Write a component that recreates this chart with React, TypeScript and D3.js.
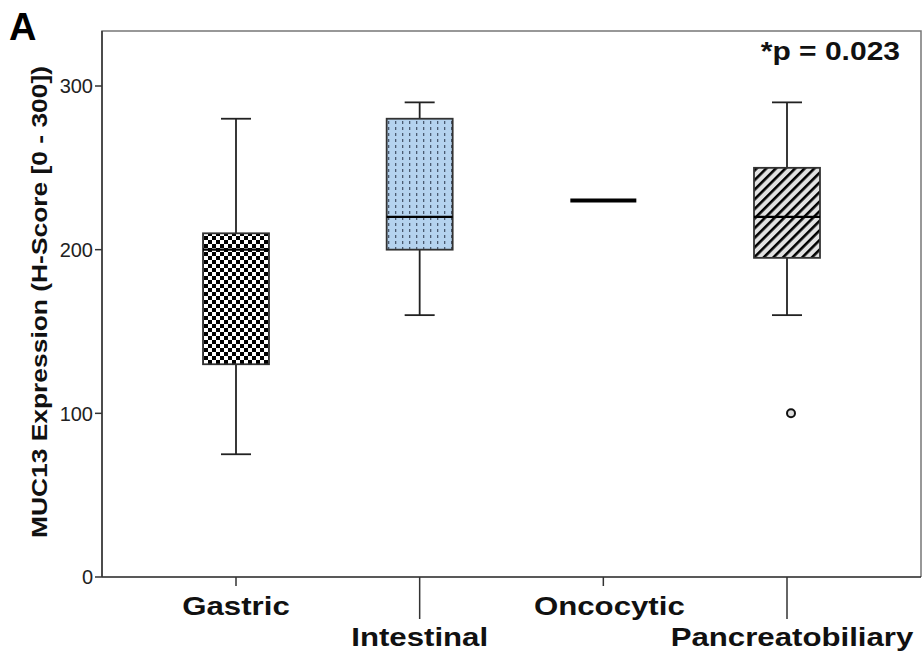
import React from "react";
import * as d3 from "d3";

const categories = ["Gastric", "Intestinal", "Oncocytic", "Pancreatobiliary"];
const mins = [75, 160, 230, 160];
const q1s = [130, 200, 230, 195];
const medians = [200, 220, 230, 220];
const q3s = [210, 280, 230, 250];
const maxs = [280, 290, 230, 290];
const outliers = [{ cat: "Pancreatobiliary", value: 100 }];
const yTicks = [0, 100, 200, 300];
const fills = ["url(#checker)", "url(#dots)", "#000", "url(#hatch)"];

const W = 924;
const H = 656;
const left = 102;
const right = 921;
const top = 31;
const bottom = 577;
const SX = 1.2;

function StretchText({ x, y, size, anchor = "middle", children }: any) {
  return (
    <g transform={`translate(${x},${y}) scale(${SX},1)`}>
      <text x={0} y={0} textAnchor={anchor} fontSize={size} fontWeight="bold" fill="#111">{children}</text>
    </g>
  );
}

export default function App() {
  const y = d3.scaleLinear().domain([0, 300]).range([bottom, 86]);
  const x = d3.scalePoint<string>().domain(categories).range([236, 787]);
  const boxW = 66;
  const capW = 30;
  const labelShift: Record<string, number> = { Oncocytic: 6, Pancreatobiliary: 5 };
  return (
    <svg width={W} height={H} style={{ position: "absolute", left: 0, top: 0, background: "#fff" }}
      fontFamily="Arial, 'Liberation Sans', sans-serif">
      <defs>
        <pattern id="checker" width={8} height={8} patternUnits="userSpaceOnUse">
          <rect width={8} height={8} fill="#fff" />
          <rect width={4} height={4} fill="#000" />
          <rect x={4} y={4} width={4} height={4} fill="#000" />
        </pattern>
        <pattern id="dots" width={7} height={6} patternUnits="userSpaceOnUse">
          <rect width={7} height={6} fill="#b5d3ef" />
          <rect x={3} y={1} width={1.3} height={3} fill="#4a5a70" />
        </pattern>
        <pattern id="hatch" width={6.8} height={6.8} patternUnits="userSpaceOnUse" patternTransform="rotate(45)">
          <rect width={6.8} height={6.8} fill="#e2e2e2" />
          <rect x={0} y={0} width={2.6} height={6.8} fill="#000" />
        </pattern>
      </defs>
      {/* frame */}
      <path d={`M${left},${bottom}V${top}H${right}V${bottom}`} fill="none" stroke="#777" strokeWidth={1.5} />
      <line x1={left} x2={right} y1={bottom} y2={bottom} stroke="#222" strokeWidth={1.5} />
      <line x1={left} x2={left} y1={top} y2={bottom} stroke="#333" strokeWidth={1.5} />
      {/* y ticks */}
      {yTicks.map((t) => (
        <g key={t}>
          <line x1={left - 7} x2={left} y1={y(t)} y2={y(t)} stroke="#333" strokeWidth={1.5} />
          <text x={left - 9} y={y(t)} dy="0.36em" textAnchor="end" fontSize={20} fill="#222">{t}</text>
        </g>
      ))}
      <g transform={`translate(47,${302}) rotate(-90)`}>
        <StretchText x={0} y={0} size={22}>MUC13 Expression (H-Score [0 - 300])</StretchText>
      </g>
      {/* x ticks & labels */}
      {categories.map((c, i) => {
        const low = i % 2 === 1;
        return (
          <g key={c}>
            <line x1={x(c)} x2={x(c)} y1={bottom} y2={bottom + (low ? 42 : 9)} stroke="#333" strokeWidth={1.5} />
            <StretchText x={x(c)! + (labelShift[c] || 0)} y={low ? 646 : 615} size={26}>{c}</StretchText>
          </g>
        );
      })}
      {/* boxes */}
      {categories.map((c, i) => {
        const cx = x(c)!;
        if (q1s[i] === q3s[i]) {
          return (
            <g key={c}>
              <line x1={cx - boxW / 2} x2={cx + boxW / 2} y1={y(medians[i])} y2={y(medians[i])} stroke="#000" strokeWidth={4} />
            </g>
          );
        }
        return (
          <g key={c}>
            <line x1={cx} x2={cx} y1={y(maxs[i])} y2={y(q3s[i])} stroke="#222" strokeWidth={1.8} />
            <line x1={cx} x2={cx} y1={y(q1s[i])} y2={y(mins[i])} stroke="#222" strokeWidth={1.8} />
            <line x1={cx - capW / 2} x2={cx + capW / 2} y1={y(maxs[i])} y2={y(maxs[i])} stroke="#222" strokeWidth={1.8} />
            <line x1={cx - capW / 2} x2={cx + capW / 2} y1={y(mins[i])} y2={y(mins[i])} stroke="#222" strokeWidth={1.8} />
            <rect x={cx - boxW / 2} y={y(q3s[i])} width={boxW} height={y(q1s[i]) - y(q3s[i])}
              fill={fills[i]} stroke="#333" strokeWidth={1.8} />
            <line x1={cx - boxW / 2} x2={cx + boxW / 2} y1={y(medians[i])} y2={y(medians[i])} stroke="#000" strokeWidth={2.2} />
          </g>
        );
      })}
      {outliers.map((o, i) => (
        <circle key={i} cx={x(o.cat)! + 4} cy={y(o.value)} r={4} fill="#ddd" stroke="#111" strokeWidth={2} />
      ))}
      <text x={9} y={40} fontSize={38} fontWeight="bold" fill="#000">A</text>
      <StretchText x={900} y={60} size={25} anchor="end">*p = 0.023</StretchText>
    </svg>
  );
}
